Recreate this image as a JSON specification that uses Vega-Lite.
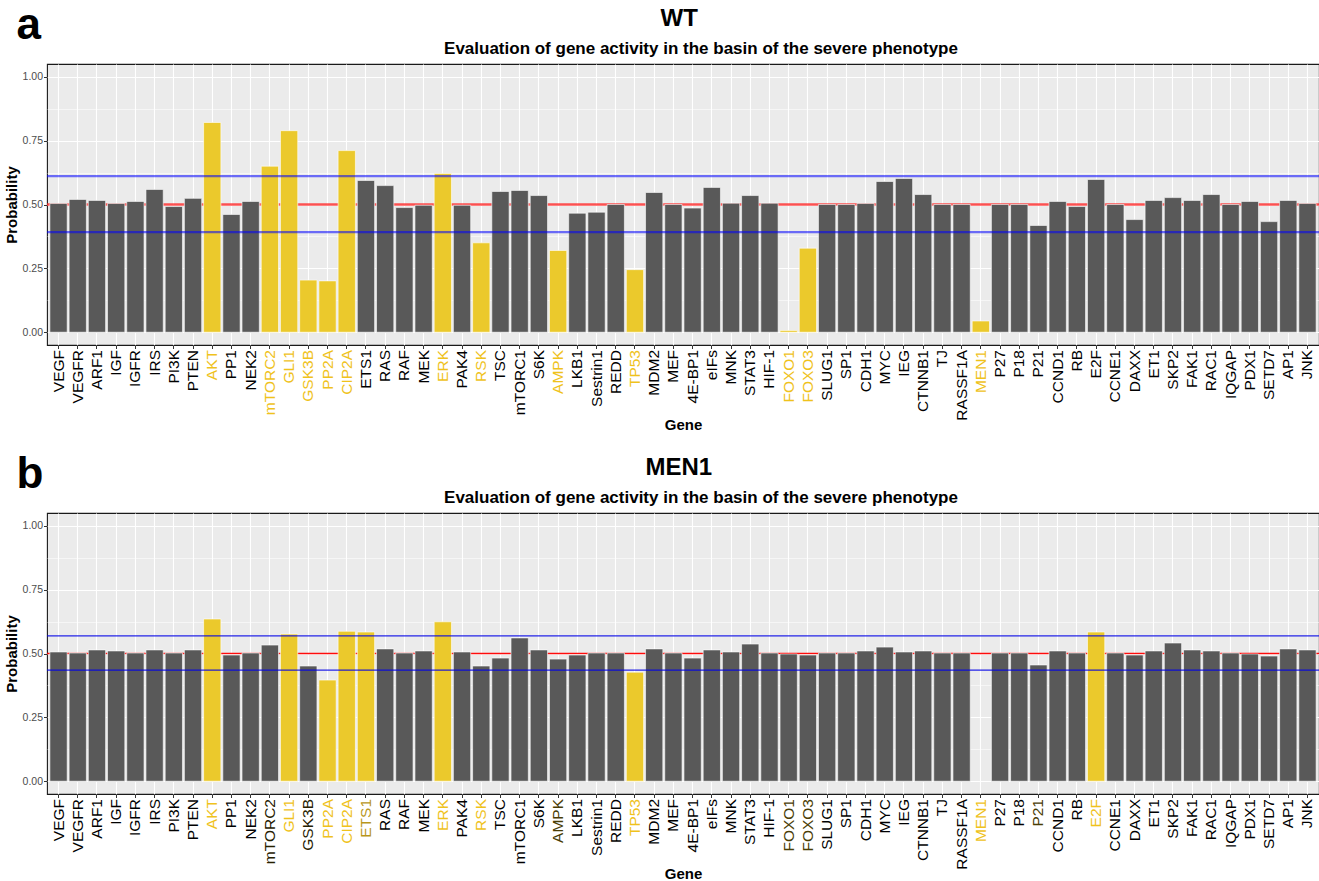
{
  "$schema": "https://vega.github.io/schema/vega-lite/v6.json",
  "padding": {"left": 3, "top": 4, "right": 2, "bottom": 2},
  "background": "white",
  "spacing": 20,
  "datasets": {
    "wt": [
      {"gene": "VEGF", "probability": 0.504, "highlighted": "no"},
      {"gene": "VEGFR", "probability": 0.52, "highlighted": "no"},
      {"gene": "ARF1", "probability": 0.516, "highlighted": "no"},
      {"gene": "IGF", "probability": 0.504, "highlighted": "no"},
      {"gene": "IGFR", "probability": 0.512, "highlighted": "no"},
      {"gene": "IRS", "probability": 0.559, "highlighted": "no"},
      {"gene": "PI3K", "probability": 0.492, "highlighted": "no"},
      {"gene": "PTEN", "probability": 0.524, "highlighted": "no"},
      {"gene": "AKT", "probability": 0.821, "highlighted": "yes"},
      {"gene": "PP1", "probability": 0.461, "highlighted": "no"},
      {"gene": "NEK2", "probability": 0.512, "highlighted": "no"},
      {"gene": "mTORC2", "probability": 0.65, "highlighted": "yes"},
      {"gene": "GLI1", "probability": 0.789, "highlighted": "yes"},
      {"gene": "GSK3B", "probability": 0.204, "highlighted": "yes"},
      {"gene": "PP2A", "probability": 0.201, "highlighted": "yes"},
      {"gene": "CIP2A", "probability": 0.711, "highlighted": "yes"},
      {"gene": "ETS1", "probability": 0.594, "highlighted": "no"},
      {"gene": "RAS", "probability": 0.574, "highlighted": "no"},
      {"gene": "RAF", "probability": 0.488, "highlighted": "no"},
      {"gene": "MEK", "probability": 0.497, "highlighted": "no"},
      {"gene": "ERK", "probability": 0.621, "highlighted": "yes"},
      {"gene": "PAK4", "probability": 0.497, "highlighted": "no"},
      {"gene": "RSK", "probability": 0.35, "highlighted": "yes"},
      {"gene": "TSC", "probability": 0.551, "highlighted": "no"},
      {"gene": "mTORC1", "probability": 0.555, "highlighted": "no"},
      {"gene": "S6K", "probability": 0.535, "highlighted": "no"},
      {"gene": "AMPK", "probability": 0.32, "highlighted": "yes"},
      {"gene": "LKB1", "probability": 0.466, "highlighted": "no"},
      {"gene": "Sestrin1", "probability": 0.47, "highlighted": "no"},
      {"gene": "REDD", "probability": 0.5, "highlighted": "no"},
      {"gene": "TP53", "probability": 0.245, "highlighted": "yes"},
      {"gene": "MDM2", "probability": 0.547, "highlighted": "no"},
      {"gene": "MEF", "probability": 0.5, "highlighted": "no"},
      {"gene": "4E-BP1", "probability": 0.486, "highlighted": "no"},
      {"gene": "eIFs", "probability": 0.567, "highlighted": "no"},
      {"gene": "MNK", "probability": 0.505, "highlighted": "no"},
      {"gene": "STAT3", "probability": 0.535, "highlighted": "no"},
      {"gene": "HIF-1", "probability": 0.505, "highlighted": "no"},
      {"gene": "FOXO1", "probability": 0.007, "highlighted": "yes"},
      {"gene": "FOXO3", "probability": 0.329, "highlighted": "yes"},
      {"gene": "SLUG1", "probability": 0.5, "highlighted": "no"},
      {"gene": "SP1", "probability": 0.5, "highlighted": "no"},
      {"gene": "CDH1", "probability": 0.504, "highlighted": "no"},
      {"gene": "MYC", "probability": 0.59, "highlighted": "no"},
      {"gene": "IEG", "probability": 0.602, "highlighted": "no"},
      {"gene": "CTNNB1", "probability": 0.539, "highlighted": "no"},
      {"gene": "TJ", "probability": 0.5, "highlighted": "no"},
      {"gene": "RASSF1A", "probability": 0.5, "highlighted": "no"},
      {"gene": "MEN1", "probability": 0.044, "highlighted": "yes"},
      {"gene": "P27", "probability": 0.5, "highlighted": "no"},
      {"gene": "P18", "probability": 0.5, "highlighted": "no"},
      {"gene": "P21", "probability": 0.418, "highlighted": "no"},
      {"gene": "CCND1", "probability": 0.512, "highlighted": "no"},
      {"gene": "RB", "probability": 0.492, "highlighted": "no"},
      {"gene": "E2F", "probability": 0.598, "highlighted": "no"},
      {"gene": "CCNE1", "probability": 0.5, "highlighted": "no"},
      {"gene": "DAXX", "probability": 0.441, "highlighted": "no"},
      {"gene": "ET1", "probability": 0.516, "highlighted": "no"},
      {"gene": "SKP2", "probability": 0.527, "highlighted": "no"},
      {"gene": "FAK1", "probability": 0.516, "highlighted": "no"},
      {"gene": "RAC1", "probability": 0.539, "highlighted": "no"},
      {"gene": "IQGAP", "probability": 0.5, "highlighted": "no"},
      {"gene": "PDX1", "probability": 0.512, "highlighted": "no"},
      {"gene": "SETD7", "probability": 0.433, "highlighted": "no"},
      {"gene": "AP1", "probability": 0.516, "highlighted": "no"},
      {"gene": "JNK", "probability": 0.504, "highlighted": "no"}
    ],
    "men1": [
      {"gene": "VEGF", "probability": 0.506, "highlighted": "no"},
      {"gene": "VEGFR", "probability": 0.502, "highlighted": "no"},
      {"gene": "ARF1", "probability": 0.514, "highlighted": "no"},
      {"gene": "IGF", "probability": 0.51, "highlighted": "no"},
      {"gene": "IGFR", "probability": 0.502, "highlighted": "no"},
      {"gene": "IRS", "probability": 0.514, "highlighted": "no"},
      {"gene": "PI3K", "probability": 0.502, "highlighted": "no"},
      {"gene": "PTEN", "probability": 0.514, "highlighted": "no"},
      {"gene": "AKT", "probability": 0.635, "highlighted": "yes"},
      {"gene": "PP1", "probability": 0.494, "highlighted": "no"},
      {"gene": "NEK2", "probability": 0.502, "highlighted": "no"},
      {"gene": "mTORC2", "probability": 0.533, "highlighted": "no"},
      {"gene": "GLI1", "probability": 0.576, "highlighted": "yes"},
      {"gene": "GSK3B", "probability": 0.451, "highlighted": "no"},
      {"gene": "PP2A", "probability": 0.396, "highlighted": "yes"},
      {"gene": "CIP2A", "probability": 0.587, "highlighted": "yes"},
      {"gene": "ETS1", "probability": 0.584, "highlighted": "yes"},
      {"gene": "RAS", "probability": 0.518, "highlighted": "no"},
      {"gene": "RAF", "probability": 0.502, "highlighted": "no"},
      {"gene": "MEK", "probability": 0.51, "highlighted": "no"},
      {"gene": "ERK", "probability": 0.624, "highlighted": "yes"},
      {"gene": "PAK4", "probability": 0.506, "highlighted": "no"},
      {"gene": "RSK", "probability": 0.451, "highlighted": "no"},
      {"gene": "TSC", "probability": 0.482, "highlighted": "no"},
      {"gene": "mTORC1", "probability": 0.561, "highlighted": "no"},
      {"gene": "S6K", "probability": 0.514, "highlighted": "no"},
      {"gene": "AMPK", "probability": 0.478, "highlighted": "no"},
      {"gene": "LKB1", "probability": 0.494, "highlighted": "no"},
      {"gene": "Sestrin1", "probability": 0.502, "highlighted": "no"},
      {"gene": "REDD", "probability": 0.502, "highlighted": "no"},
      {"gene": "TP53", "probability": 0.427, "highlighted": "yes"},
      {"gene": "MDM2", "probability": 0.518, "highlighted": "no"},
      {"gene": "MEF", "probability": 0.502, "highlighted": "no"},
      {"gene": "4E-BP1", "probability": 0.482, "highlighted": "no"},
      {"gene": "eIFs", "probability": 0.514, "highlighted": "no"},
      {"gene": "MNK", "probability": 0.506, "highlighted": "no"},
      {"gene": "STAT3", "probability": 0.537, "highlighted": "no"},
      {"gene": "HIF-1", "probability": 0.502, "highlighted": "no"},
      {"gene": "FOXO1", "probability": 0.498, "highlighted": "no"},
      {"gene": "FOXO3", "probability": 0.494, "highlighted": "no"},
      {"gene": "SLUG1", "probability": 0.502, "highlighted": "no"},
      {"gene": "SP1", "probability": 0.502, "highlighted": "no"},
      {"gene": "CDH1", "probability": 0.51, "highlighted": "no"},
      {"gene": "MYC", "probability": 0.525, "highlighted": "no"},
      {"gene": "IEG", "probability": 0.506, "highlighted": "no"},
      {"gene": "CTNNB1", "probability": 0.51, "highlighted": "no"},
      {"gene": "TJ", "probability": 0.502, "highlighted": "no"},
      {"gene": "RASSF1A", "probability": 0.502, "highlighted": "no"},
      {"gene": "P27", "probability": 0.502, "highlighted": "no"},
      {"gene": "P18", "probability": 0.502, "highlighted": "no"},
      {"gene": "P21", "probability": 0.455, "highlighted": "no"},
      {"gene": "CCND1", "probability": 0.51, "highlighted": "no"},
      {"gene": "RB", "probability": 0.502, "highlighted": "no"},
      {"gene": "E2F", "probability": 0.584, "highlighted": "yes"},
      {"gene": "CCNE1", "probability": 0.502, "highlighted": "no"},
      {"gene": "DAXX", "probability": 0.494, "highlighted": "no"},
      {"gene": "ET1", "probability": 0.51, "highlighted": "no"},
      {"gene": "SKP2", "probability": 0.541, "highlighted": "no"},
      {"gene": "FAK1", "probability": 0.514, "highlighted": "no"},
      {"gene": "RAC1", "probability": 0.51, "highlighted": "no"},
      {"gene": "IQGAP", "probability": 0.502, "highlighted": "no"},
      {"gene": "PDX1", "probability": 0.498, "highlighted": "no"},
      {"gene": "SETD7", "probability": 0.49, "highlighted": "no"},
      {"gene": "AP1", "probability": 0.518, "highlighted": "no"},
      {"gene": "JNK", "probability": 0.514, "highlighted": "no"}
    ],
    "lines": [
      {"panel": "WT", "kind": "mid", "level": 0.5},
      {"panel": "WT", "kind": "bound", "level": 0.611},
      {"panel": "WT", "kind": "bound", "level": 0.392},
      {"panel": "MEN1", "kind": "mid", "level": 0.5},
      {"panel": "MEN1", "kind": "bound", "level": 0.569},
      {"panel": "MEN1", "kind": "bound", "level": 0.435}
    ]
  },
  "vconcat": [
    {
      "title": {"text": "a", "anchor": "start", "frame": "bounds", "fontSize": 44, "fontWeight": "bold", "color": "black", "offset": -41, "dx": 13},
      "vconcat": [
        {
          "title": {"text": "WT", "anchor": "middle", "frame": "bounds", "fontSize": 24, "offset": 8, "dx": 17},
          "vconcat": [
            {
              "title": {"text": "Evaluation of gene activity in the basin of the severe phenotype", "fontSize": 17, "dx": 18, "offset": 6},
              "width": 1272,
              "height": 281,
              "resolve": {"axis": {"y": "independent"}},
              "layer": [
                {
                  "data": {"name": "lines"},
                  "transform": [{"filter": "datum.panel == 'WT' && datum.kind == 'mid'"}],
                  "mark": {"type": "rule", "color": "#FF2A2A", "opacity": 0.8, "strokeWidth": 2.4},
                  "encoding": {
                    "y": {"field": "level", "type": "quantitative", "scale": {"domain": [-0.05, 1.05], "nice": false, "zero": false},
                      "axis": {"orient": "left", "values": [0.125, 0.375, 0.625, 0.875], "grid": true, "gridWidth": 0.55, "gridColor": "white", "labels": false, "ticks": false, "domain": false, "title": null}}
                  }
                },
                {
                  "data": {"name": "wt"},
                  "mark": {"type": "bar", "stroke": "white", "strokeWidth": 0.6},
                  "encoding": {
                    "x": {"field": "gene", "type": "nominal", "title": "Gene",
                      "scale": {"domain": ["VEGF","VEGFR","ARF1","IGF","IGFR","IRS","PI3K","PTEN","AKT","PP1","NEK2","mTORC2","GLI1","GSK3B","PP2A","CIP2A","ETS1","RAS","RAF","MEK","ERK","PAK4","RSK","TSC","mTORC1","S6K","AMPK","LKB1","Sestrin1","REDD","TP53","MDM2","MEF","4E-BP1","eIFs","MNK","STAT3","HIF-1","FOXO1","FOXO3","SLUG1","SP1","CDH1","MYC","IEG","CTNNB1","TJ","RASSF1A","MEN1","P27","P18","P21","CCND1","RB","E2F","CCNE1","DAXX","ET1","SKP2","FAK1","RAC1","IQGAP","PDX1","SETD7","AP1","JNK"], "paddingInner": 0.1, "paddingOuter": 0.15},
                      "axis": {"labelAngle": -90, "bandPosition": 0.5, "grid": true,
                        "labelColor": {"condition": {"test": "indexof(['AKT','mTORC2','GLI1','GSK3B','PP2A','CIP2A','ERK','RSK','AMPK','TP53','FOXO1','FOXO3','MEN1'], datum.value) >= 0", "value": "#EFC21C"}, "value": "black"}}},
                    "y": {"field": "probability", "type": "quantitative", "title": "Probability", "scale": {"domain": [-0.05, 1.05], "nice": false, "zero": false},
                      "axis": {"orient": "left", "values": [0, 0.25, 0.5, 0.75, 1], "format": ".2f", "grid": true, "labelColor": "#4D4D4D"}},
                    "color": {"field": "highlighted", "type": "nominal", "scale": {"domain": ["yes", "no"], "range": ["#EBC92C", "#595959"]}, "legend": null}
                  }
                },
                {
                  "data": {"name": "lines"},
                  "transform": [{"filter": "datum.panel == 'WT' && datum.kind == 'bound'"}],
                  "mark": {"type": "rule", "color": "#0000FF", "opacity": 0.55, "strokeWidth": 2.2},
                  "encoding": {
                    "y": {"field": "level", "type": "quantitative", "scale": {"domain": [-0.05, 1.05], "nice": false, "zero": false}, "axis": null}
                  }
                }
              ]
            }
          ]
        }
      ]
    },
    {
      "title": {"text": "b", "anchor": "start", "frame": "bounds", "fontSize": 44, "fontWeight": "bold", "color": "black", "offset": -41, "dx": 13},
      "vconcat": [
        {
          "title": {"text": "MEN1", "anchor": "middle", "frame": "bounds", "fontSize": 24, "offset": 8, "dx": 17},
          "vconcat": [
            {
              "title": {"text": "Evaluation of gene activity in the basin of the severe phenotype", "fontSize": 17, "dx": 18, "offset": 6},
              "width": 1272,
              "height": 281,
              "resolve": {"axis": {"y": "independent"}},
              "layer": [
                {
                  "data": {"name": "lines"},
                  "transform": [{"filter": "datum.panel == 'MEN1' && datum.kind == 'mid'"}],
                  "mark": {"type": "rule", "color": "#FF0000", "opacity": 0.95, "strokeWidth": 1.4},
                  "encoding": {
                    "y": {"field": "level", "type": "quantitative", "scale": {"domain": [-0.05, 1.05], "nice": false, "zero": false},
                      "axis": {"orient": "left", "values": [0.125, 0.375, 0.625, 0.875], "grid": true, "gridWidth": 0.55, "gridColor": "white", "labels": false, "ticks": false, "domain": false, "title": null}}
                  }
                },
                {
                  "data": {"name": "men1"},
                  "mark": {"type": "bar", "stroke": "white", "strokeWidth": 0.6},
                  "encoding": {
                    "x": {"field": "gene", "type": "nominal", "title": "Gene",
                      "scale": {"domain": ["VEGF","VEGFR","ARF1","IGF","IGFR","IRS","PI3K","PTEN","AKT","PP1","NEK2","mTORC2","GLI1","GSK3B","PP2A","CIP2A","ETS1","RAS","RAF","MEK","ERK","PAK4","RSK","TSC","mTORC1","S6K","AMPK","LKB1","Sestrin1","REDD","TP53","MDM2","MEF","4E-BP1","eIFs","MNK","STAT3","HIF-1","FOXO1","FOXO3","SLUG1","SP1","CDH1","MYC","IEG","CTNNB1","TJ","RASSF1A","MEN1","P27","P18","P21","CCND1","RB","E2F","CCNE1","DAXX","ET1","SKP2","FAK1","RAC1","IQGAP","PDX1","SETD7","AP1","JNK"], "paddingInner": 0.1, "paddingOuter": 0.15},
                      "axis": {"labelAngle": -90, "bandPosition": 0.5, "grid": true,
                        "labelColor": {"condition": [
                          {"test": "indexof(['AKT','GLI1','PP2A','CIP2A','ERK','RSK','TP53','MEN1','E2F'], datum.value) >= 0", "value": "#EFC21C"},
                          {"test": "datum.value == 'ETS1'", "value": "#B8961B"},
                          {"test": "indexof(['AMPK','FOXO1','FOXO3','P21'], datum.value) >= 0", "value": "#4A3D05"},
                          {"test": "indexof(['mTORC2','GSK3B'], datum.value) >= 0", "value": "#262000"}
                        ], "value": "black"}}},
                    "y": {"field": "probability", "type": "quantitative", "title": "Probability", "scale": {"domain": [-0.05, 1.05], "nice": false, "zero": false},
                      "axis": {"orient": "left", "values": [0, 0.25, 0.5, 0.75, 1], "format": ".2f", "grid": true, "labelColor": "#4D4D4D"}},
                    "color": {"field": "highlighted", "type": "nominal", "scale": {"domain": ["yes", "no"], "range": ["#EBC92C", "#595959"]}, "legend": null}
                  }
                },
                {
                  "data": {"name": "lines"},
                  "transform": [{"filter": "datum.panel == 'MEN1' && datum.kind == 'bound'"}],
                  "mark": {"type": "rule", "color": "#0000E6", "opacity": 0.85, "strokeWidth": 1.4},
                  "encoding": {
                    "y": {"field": "level", "type": "quantitative", "scale": {"domain": [-0.05, 1.05], "nice": false, "zero": false}, "axis": null}
                  }
                }
              ]
            }
          ]
        }
      ]
    }
  ],
  "config": {
    "font": "Liberation Sans",
    "view": {"fill": "#EBEBEB", "stroke": "#1A1A1A", "strokeWidth": 1.1},
    "axis": {
      "domain": false,
      "ticks": true,
      "tickColor": "#333333",
      "tickSize": 3.5,
      "tickWidth": 1,
      "gridColor": "white",
      "gridWidth": 1.1,
      "labelFont": "Liberation Sans",
      "titleFont": "Liberation Sans",
      "titleFontWeight": "bold",
      "titleFontSize": 15,
      "titleColor": "black"
    },
    "axisX": {"labelFontSize": 15.5, "labelPadding": 1, "labelOverlap": false, "labelLimit": 200, "titlePadding": -3},
    "axisY": {"labelFontSize": 10.5, "labelColor": "#4D4D4D", "labelPadding": 1, "titlePadding": 3},
    "title": {
      "font": "Liberation Sans",
      "fontWeight": "bold",
      "color": "black",
      "anchor": "middle"
    }
  }
}
